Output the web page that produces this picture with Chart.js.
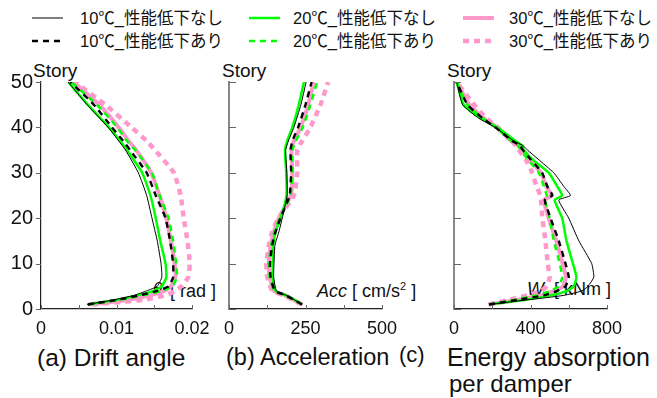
<!DOCTYPE html>
<html lang="ja">
<head>
<meta charset="utf-8">
<title>Story response</title>
<script src="https://cdn.jsdelivr.net/npm/chart.js@4.4.1/dist/chart.umd.min.js"></script>
<style>
  body { margin: 0; background: #fff; }
  #wrap { position: relative; width: 657px; height: 398px; overflow: hidden;
          font-family: Arial, 'Liberation Sans', 'Noto Sans CJK JP', sans-serif; color: #111; }
  #wrap canvas { position: absolute; left: 0; top: 0; }
  .txt { position: absolute; white-space: nowrap; line-height: 1; transform: translateY(-50%); }
  .legend-item { position: absolute; transform: translateY(-50%); }
  .legend-item svg { position: absolute; left: 0; top: -6px; }
  .legend-item span { position: absolute; white-space: nowrap; font-size: 16.5px; line-height: 1;
                      transform: translateY(-50%); font-family: Arial, 'Noto Sans CJK JP', sans-serif; }
</style>
</head>
<body>
<div id="wrap">
  <div class="txt" style="left:33px;top:70px;font-size:19px">Story</div>
  <div class="txt" style="left:222px;top:70px;font-size:19px">Story</div>
  <div class="txt" style="left:447px;top:70px;font-size:19px">Story</div>

  <div class="txt" style="left:153px;top:288px;font-size:17px"><i>θ</i></div>
  <div class="txt" style="left:170px;top:291px;font-size:18px">[ rad ]</div>
  <div class="txt" style="left:317px;top:290px;font-size:18px"><i>Acc</i> [ cm/s<sup style="font-size:11px">2</sup> ]</div>
  <div class="txt" style="left:527px;top:289px;font-size:18px"><i>W</i>&nbsp;&nbsp;[ kNm ]</div>

  <div class="txt" style="left:37px;top:358px;font-size:24.5px">(a) Drift angle</div>
  <div class="txt" style="left:226px;top:358px;font-size:23.5px">(b) Acceleration</div>
  <div class="txt" style="left:399px;top:355px;font-size:22px">(c)</div>
  <div class="txt" style="left:447px;top:357px;font-size:25px">Energy absorption</div>
  <div class="txt" style="left:449px;top:384px;font-size:24px">per damper</div>

  <div id="legend"></div>
  <canvas id="driftChart" width="657" height="398"></canvas>
  <canvas id="accChart" width="657" height="398"></canvas>
  <canvas id="energyChart" width="657" height="398"></canvas>
</div>
<script>
// ---- data ----
const seriesNames = ['10℃_性能低下なし', '10℃_性能低下あり', '20℃_性能低下なし',
                     '20℃_性能低下あり', '30℃_性能低下なし', '30℃_性能低下あり'];

// (a) story drift angle [rad]
const driftStories = [1, 2, 3, 4, 5, 7, 10, 15, 20, 25, 30, 35, 37, 40, 45, 50];
const drift10No  = [0.0061, 0.0096, 0.0123, 0.0140, 0.0154, 0.0160, 0.0159, 0.0154, 0.0147, 0.0140, 0.0129, 0.0112, 0.0103, 0.0089, 0.0061, 0.0036];
const drift10Yes = [0.0062, 0.0100, 0.0130, 0.0154, 0.0169, 0.0175, 0.0175, 0.0171, 0.0165, 0.0152, 0.0140, 0.0118, 0.0109, 0.0094, 0.0070, 0.0039];
const drift20No  = [0.0062, 0.0099, 0.0128, 0.0149, 0.0160, 0.0166, 0.0165, 0.0158, 0.0152, 0.0145, 0.0134, 0.0114, 0.0105, 0.0090, 0.0062, 0.0036];
const drift20Yes = [0.0063, 0.0103, 0.0135, 0.0160, 0.0174, 0.0180, 0.0179, 0.0175, 0.0169, 0.0157, 0.0147, 0.0125, 0.0114, 0.0101, 0.0074, 0.0040];
const drift30No  = [0.0063, 0.0115, 0.0145, 0.0163, 0.0172, 0.0178, 0.0177, 0.0172, 0.0166, 0.0157, 0.0146, 0.0126, 0.0116, 0.0103, 0.0077, 0.0043];
const drift30Yes = [0.0068, 0.0135, 0.0165, 0.0178, 0.0186, 0.0195, 0.0197, 0.0194, 0.0189, 0.0185, 0.0176, 0.0151, 0.0140, 0.0120, 0.0085, 0.0045];

// (b) acceleration [cm/s2]
const accStories = [1, 2, 3, 4, 7, 10, 14, 17, 20, 25, 30, 35, 37, 40, 45, 50];
const acc10No  = [239, 214, 187, 155, 146, 147, 150, 163, 174, 190, 189, 185, 194, 212, 235, 252];
const acc10Yes = [239, 213, 186, 150, 136, 134, 141, 152, 168, 198, 203, 201, 207, 226, 250, 270];
const acc20No  = [239, 214, 187, 152, 143, 143, 145, 152, 169, 188, 187, 183, 190, 207, 228, 245];
const acc20Yes = [239, 213, 185, 148, 133, 130, 138, 148, 165, 201, 207, 207, 218, 241, 266, 288];
const acc30No  = [239, 212, 184, 147, 133, 130, 136, 147, 163, 202, 207, 204, 212, 234, 259, 277];
const acc30Yes = [238, 210, 180, 142, 125, 122, 130, 141, 161, 212, 223, 223, 239, 266, 299, 324];

// (c) energy absorption per damper [kNm]
const energyStories = [1, 2, 3, 4, 5, 7, 10, 15, 20, 24, 25, 27, 30, 33, 35, 36, 37, 40, 42, 45, 50];
const energy10No  = [183, 383, 574, 670, 700, 731, 720, 653, 600, 548, 609, 574, 522, 440, 385, 360, 313, 215, 130, 45, 14];
const energy10Yes = [183, 331, 470, 540, 583, 600, 583, 548, 505, 475, 514, 488, 461, 400, 360, 345, 305, 217, 150, 70, 14];
const energy20No  = [183, 365, 505, 592, 626, 640, 622, 588, 566, 526, 566, 540, 496, 409, 365, 357, 322, 226, 140, 50, 14];
const energy20Yes = [183, 313, 431, 505, 548, 566, 553, 522, 500, 475, 485, 470, 444, 385, 350, 335, 300, 217, 150, 70, 14];
const energy30No  = [180, 325, 455, 525, 570, 585, 568, 535, 495, 470, 512, 482, 455, 395, 355, 335, 300, 225, 155, 80, 14];
const energy30Yes = [183, 287, 383, 455, 485, 500, 490, 478, 462, 455, 452, 432, 409, 374, 339, 325, 300, 230, 170, 105, 14];

// axis ticks
const storyTicks = [0, 10, 20, 30, 40, 50];
const driftTickLabels = [0, 0.01, 0.02];
const accTickLabels = [0, 250, 500];
const energyTickLabels = [0, 400, 800];

// ---- styles ----
const BLACK = '#000000', GREEN = '#00ff00', PINK = '#ff99cc';
const lineStyles = [
    { color: BLACK, width: 1,   dash: [] },
    { color: BLACK, width: 2.4, dash: [6, 5] },
    { color: GREEN, width: 2.5, dash: [] },
    { color: GREEN, width: 2.5, dash: [6, 5] },
    { color: PINK,  width: 4,   dash: [] },
    { color: PINK,  width: 4.5, dash: [6, 5] }
];

// legend: [series index, line x, text x, row y]
const legendLayout = [
    [0, 32, 80, 18], [1, 32, 80, 41],
    [2, 249, 293, 18], [3, 249, 293, 41],
    [4, 463, 509, 18], [5, 463, 509, 41]
];

const legendBox = document.getElementById('legend');
legendLayout.forEach(([i, lx, tx, y]) => {
    const st = lineStyles[i];
    const item = document.createElement('div');
    item.className = 'legend-item';
    item.style.left = lx + 'px';
    item.style.top = y + 'px';
    item.innerHTML =
        `<svg width="34" height="12"><line x1="0" y1="6" x2="31" y2="6" stroke="${st.color}" ` +
        `stroke-width="${st.width}" stroke-dasharray="${st.dash.join(' ')}"/></svg>` +
        `<span style="left:${tx - lx}px">${seriesNames[i]}</span>`;
    legendBox.appendChild(item);
});

// ---- tick marks drawn by hand (inward / outward) ----
const tickMarks = {
    id: 'tickMarks',
    afterDraw(chart, args, opts) {
        const ctx = chart.ctx;
        const xs = chart.scales.x, ys = chart.scales.y;
        ctx.save();
        ctx.strokeStyle = opts.color;
        ctx.lineWidth = 1;
        ctx.beginPath();
        xs.ticks.forEach(t => {
            const px = Math.round(xs.getPixelForValue(t.value)) + 0.5;
            ctx.moveTo(px, ys.bottom);
            ctx.lineTo(px, ys.bottom - opts.xLen);
        });
        ys.ticks.forEach(t => {
            const py = Math.round(ys.getPixelForValue(t.value)) + 0.5;
            ctx.moveTo(xs.left, py);
            ctx.lineTo(xs.left + opts.yLen, py);
        });
        ctx.stroke();
        ctx.restore();
    }
};

const Y_AXIS_W = 30, X_AXIS_H = 30;
const FONT = "Arial, 'Liberation Sans', sans-serif";

function near(list, v, tol) {
    return list.some(l => Math.abs(l - v) < tol);
}

function makePanel(id, area, stories, seriesValues, x, showStoryLabels, yBorder, yTickLen) {
    const datasets = seriesValues.map((vals, i) => ({
        label: seriesNames[i],
        data: stories.map((s, k) => ({ x: vals[k], y: s })),
        showLine: true,
        borderColor: lineStyles[i].color,
        borderWidth: lineStyles[i].width,
        borderDash: lineStyles[i].dash,
        pointRadius: 0,
        tension: 0.15
    }));

    return new Chart(document.getElementById(id), {
        type: 'scatter',
        data: { datasets },
        options: {
            responsive: false,
            animation: false,
            events: [],
            layout: {
                padding: {
                    left: area.left - Y_AXIS_W,
                    right: 657 - area.right,
                    top: area.top,
                    bottom: 398 - area.bottom - X_AXIS_H
                }
            },
            plugins: {
                legend: { display: false },
                tooltip: { enabled: false },
                tickMarks: { color: '#666', xLen: 4, yLen: yTickLen }
            },
            scales: {
                x: {
                    type: 'linear',
                    min: x.min,
                    max: x.max,
                    grid: { display: false, drawTicks: false },
                    border: { display: true, color: '#222', width: 1.2 },
                    ticks: {
                        stepSize: x.step,
                        autoSkip: false,
                        maxRotation: 0,
                        padding: 9,
                        color: '#111',
                        font: { family: FONT, size: 18 },
                        callback: v => near(x.labels, v, x.step / 100) ? String(+v.toFixed(3)) : ''
                    },
                    afterFit: s => { s.height = X_AXIS_H; }
                },
                y: {
                    type: 'linear',
                    min: 0,
                    max: 50,
                    grid: { display: false, drawTicks: false },
                    border: { display: true, color: yBorder.color, width: yBorder.width },
                    ticks: {
                        stepSize: 10,
                        padding: 8,
                        color: '#111',
                        font: { family: FONT, size: 20 },
                        callback: v => (showStoryLabels && storyTicks.includes(v)) ? String(v) : ''
                    },
                    afterFit: s => { s.width = Y_AXIS_W; }
                }
            }
        },
        plugins: [tickMarks]
    });
}

makePanel('driftChart', { left: 41, right: 192, top: 82, bottom: 309 }, driftStories,
    [drift10No, drift10Yes, drift20No, drift20Yes, drift30No, drift30Yes],
    { min: 0, max: 0.02, step: 0.005, labels: driftTickLabels },
    true, { color: '#222', width: 1.2 }, -5);

makePanel('accChart', { left: 229, right: 382, top: 82, bottom: 309 }, accStories,
    [acc10No, acc10Yes, acc20No, acc20Yes, acc30No, acc30Yes],
    { min: 0, max: 500, step: 125, labels: accTickLabels },
    false, { color: '#888', width: 2 }, 7);

makePanel('energyChart', { left: 454, right: 607, top: 82, bottom: 309 }, energyStories,
    [energy10No, energy10Yes, energy20No, energy20Yes, energy30No, energy30Yes],
    { min: 0, max: 800, step: 200, labels: energyTickLabels },
    false, { color: '#888', width: 2 }, 7);
</script>
</body>
</html>
